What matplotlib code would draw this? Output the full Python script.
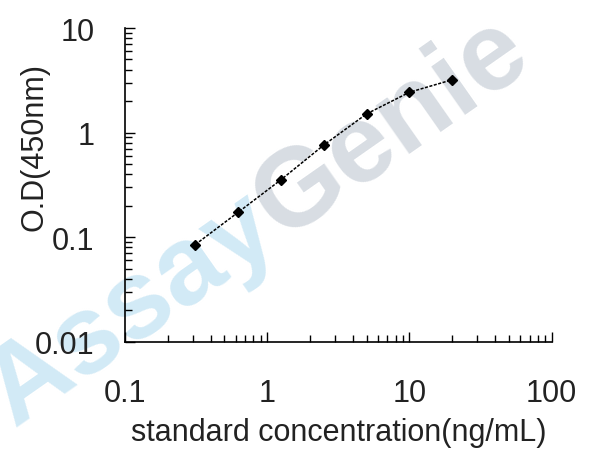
import matplotlib
matplotlib.use("Agg")
import matplotlib.pyplot as plt
from matplotlib.ticker import LogLocator, NullFormatter, FixedLocator

# standard curve values
conc = [0.3125, 0.625, 1.25, 2.5, 5, 10, 20]
od = [0.085, 0.173, 0.354, 0.76, 1.51, 2.43, 3.2]

x_ticks = [0.1, 1, 10, 100]
x_labels = ["0.1", "1", "10", "100"]
y_ticks = [0.01, 0.1, 1, 10]
y_labels = ["0.01", "0.1", "1", "10"]

plt.rcParams['font.family'] = ['Liberation Sans', 'DejaVu Sans']

fig = plt.figure(figsize=(6.08, 4.60), dpi=100)
ax = fig.add_axes([125 / 608, 1 - 342.7 / 460, 426.7 / 608, 313.7 / 460])
ax.patch.set_alpha(0)

# watermark behind the plot
jx, jy = 282 / 608, 1 - 240 / 460
wm = dict(fontsize=80, fontweight='bold', rotation=35, rotation_mode='anchor',
          va='baseline', zorder=-1)
fig.text(jx, jy, "Assay", ha='right', color='#d2eaf6', **wm)
fig.text(jx, jy, "Genie", ha='left', color='#d8dde3', **wm)

ax.plot(conc, od, color='black', linestyle=(0, (2, 1)), linewidth=1.1,
        marker='D', markersize=5, zorder=3)

ax.set_xscale('log')
ax.set_yscale('log')
ax.set_xlim(0.1, 100)
ax.set_ylim(0.01, 10)

ax.xaxis.set_major_locator(FixedLocator(x_ticks))
ax.set_xticklabels(x_labels)
ax.yaxis.set_major_locator(FixedLocator(y_ticks))
ax.set_yticklabels(y_labels)
ax.xaxis.set_minor_locator(LogLocator(base=10, subs=range(2, 10)))
ax.yaxis.set_minor_locator(LogLocator(base=10, subs=range(2, 10)))
ax.xaxis.set_minor_formatter(NullFormatter())
ax.yaxis.set_minor_formatter(NullFormatter())

ax.spines['top'].set_visible(False)
ax.spines['right'].set_visible(False)
ax.spines['left'].set_linewidth(1.2)
ax.spines['bottom'].set_linewidth(1.2)

ax.tick_params(which='major', direction='in', length=7, width=1, labelsize=22,
               colors='black')
ax.tick_params(which='minor', direction='in', length=5, width=1)
ax.tick_params(axis='x', which='major', pad=26)
ax.tick_params(axis='y', which='major', pad=22)
for lab in ax.get_xticklabels() + ax.get_yticklabels():
    lab.set_color('#222222')

ax.set_xlabel("standard concentration(ng/mL)", fontsize=22, color='#222222',
              va='center')
ax.set_ylabel("O.D(450nm)", fontsize=22, color='#222222', va='center')
ax.xaxis.set_label_coords(0.5, -0.288)
ax.yaxis.set_label_coords(-0.211, 0.624)

fig.savefig("out.png", dpi=100)
